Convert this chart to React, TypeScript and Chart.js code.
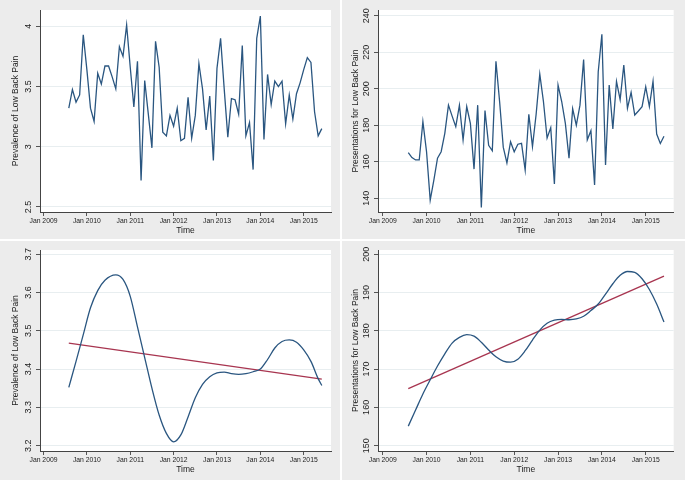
import React, { useEffect, useRef } from 'react';
import { Chart, registerables } from 'chart.js';

Chart.register(...registerables);

const FONT = '"Liberation Sans", Arial, Helvetica, sans-serif';
const NAVY = '#2a5680';
const MAROON = '#a83550';

// months counted from Jan 2009 (0); monthly series start Aug 2009
const firstMonth = 7;

const prevalence = [
  3.32, 3.475, 3.37, 3.43, 3.93, 3.64, 3.32, 3.21, 3.61, 3.52,
  3.67, 3.67, 3.58, 3.48, 3.83, 3.75, 4.01, 3.66, 3.33, 3.71,
  2.72, 3.55, 3.27, 2.99, 3.875, 3.66, 3.12, 3.09, 3.26, 3.17,
  3.32, 3.05, 3.07, 3.41, 3.07, 3.26, 3.69, 3.48, 3.14, 3.42,
  2.885, 3.65, 3.9, 3.48, 3.08, 3.4, 3.39, 3.27, 3.84, 3.09,
  3.2, 2.81, 3.9, 4.085, 3.06, 3.6, 3.35, 3.545, 3.5, 3.545,
  3.19, 3.43, 3.23, 3.44, 3.53, 3.64, 3.74, 3.7, 3.29, 3.09,
  3.15,
];

const presentations = [
  165, 162.3, 161, 161, 182, 165.5, 139, 150, 162, 165.5,
  175.6, 191, 185, 179.2, 191, 172, 190.2, 181, 156, 191,
  135, 188, 169, 166, 215, 193, 168, 159.4, 171, 165.5,
  169.6, 170.1, 155.5, 186, 168.3, 186, 208, 193, 173, 178.7,
  147.8, 202, 193, 181, 162, 189, 180, 191, 216, 172,
  177, 147.3, 209.3, 229.8, 158.2, 202, 178, 204, 194, 213,
  189.3, 198, 185.6, 187.8, 190.2, 201, 190.2, 204, 175.2, 170,
  174,
];

const smoothMonthsPrev = [
  7, 9, 11, 13, 15, 17, 20, 22, 24, 26, 28, 30, 32, 34, 36, 38, 40, 42,
  44, 46, 48, 50, 52, 54, 56, 58, 60, 62, 64, 66, 68, 70, 72, 74, 76, 77,
];
const smoothPrevalence = [
  3.352, 3.42, 3.49, 3.56, 3.605, 3.632, 3.646, 3.634, 3.59, 3.51, 3.43, 3.35,
  3.28, 3.232, 3.21, 3.228, 3.275, 3.325, 3.36, 3.38, 3.39, 3.392, 3.388, 3.386,
  3.388, 3.393, 3.4, 3.425, 3.455, 3.472, 3.476, 3.47, 3.45, 3.42, 3.375, 3.357,
];

const smoothMonthsPres = [
  7, 9, 11, 13, 15, 17, 19, 21, 23, 25, 27, 29, 31, 33, 35, 37, 39, 41,
  43, 45, 47, 49, 51, 53, 55, 57, 59, 61, 63, 65, 67, 69, 71, 73, 75, 77,
];
const smoothPresentations = [
  155.1, 159.3, 163.5, 167.2, 170.8, 174, 176.8, 178.3, 179, 178.6, 177, 175,
  173.2, 172.1, 171.8, 172.6, 174.8, 177.6, 180.2, 182, 182.8, 183, 182.9, 183.1,
  183.8, 185.3, 187, 189.6, 192.3, 194.5, 195.5, 195.3, 193.6, 190.8, 187, 182.3,
];

const trendMonths = [7, 77];
const trendPrevalence = [3.468, 3.374];
const trendPresentations = [164.9, 194.3];

const xTickMonths = [0, 12, 24, 36, 48, 60, 72];
const xTickLabels = ['Jan 2009', 'Jan 2010', 'Jan 2011', 'Jan 2012', 'Jan 2013', 'Jan 2014', 'Jan 2015'];

const yTicksPrevTop = [2.5, 3, 3.5, 4];
const yLabelsPrevTop = ['2.5', '3', '3.5', '4'];
const yTicksPresTop = [140, 160, 180, 200, 220, 240];
const yLabelsPresTop = ['140', '160', '180', '200', '220', '240'];
const yTicksPrevBottom = [3.2, 3.3, 3.4, 3.5, 3.6, 3.7];
const yLabelsPrevBottom = ['3.2', '3.3', '3.4', '3.5', '3.6', '3.7'];
const yTicksPresBottom = [150, 160, 170, 180, 190, 200];
const yLabelsPresBottom = ['150', '160', '170', '180', '190', '200'];

const whiteArea = {
  id: 'whiteArea',
  beforeDraw(chart: any) {
    const { ctx, chartArea: a } = chart;
    ctx.save();
    ctx.fillStyle = '#ffffff';
    ctx.fillRect(a.left, a.top, a.right - a.left, a.bottom - a.top);
    ctx.restore();
  },
};

type PanelProps = {
  left: number; top: number; width: number; height: number;
  datasets: any[];
  yTitle: string;
  yMin: number; yMax: number; yTicks: number[]; yLabels: string[];
  xMin: number; xMax: number;
  axisW: number; axisH: number; tickPad: number; yTitlePad: number; xTitlePad: number;
  chartTop: number; chartRight: number;
};

function Panel(p: PanelProps) {
  const ref = useRef<HTMLCanvasElement>(null);
  useEffect(() => {
    if (!ref.current) return;
    const chart = new Chart(ref.current, {
      type: 'line',
      data: { datasets: p.datasets },
      plugins: [whiteArea],
      options: {
        animation: false,
        responsive: false,
        maintainAspectRatio: false,
        parsing: false as any,
        layout: { padding: { left: 0, top: p.chartTop, right: p.width - p.chartRight, bottom: 0 } },
        plugins: { legend: { display: false }, tooltip: { enabled: false } },
        elements: { point: { radius: 0 } },
        scales: {
          x: {
            type: 'linear',
            min: p.xMin,
            max: p.xMax,
            afterBuildTicks: (ax: any) => { ax.ticks = xTickMonths.map((v) => ({ value: v })); },
            afterFit: (ax: any) => { ax.height = p.axisH; },
            ticks: {
              autoSkip: false, maxRotation: 0, minRotation: 0, padding: 1,
              color: '#222', font: { family: FONT, size: 6.8 },
              callback: (v: any) => xTickLabels[xTickMonths.indexOf(Number(v))],
            },
            grid: { drawOnChartArea: false, drawTicks: true, tickLength: 4, tickColor: '#555', tickWidth: 1 },
            border: { display: true, color: '#444', width: 1 },
            title: {
              display: true, text: 'Time', color: '#222',
              font: { family: FONT, size: 8.5 }, padding: { top: 0, bottom: p.xTitlePad },
            },
          },
          y: {
            type: 'linear',
            min: p.yMin,
            max: p.yMax,
            afterBuildTicks: (ax: any) => { ax.ticks = p.yTicks.map((v) => ({ value: v })); },
            afterFit: (ax: any) => { ax.width = p.axisW; },
            ticks: {
              autoSkip: false, minRotation: 90, maxRotation: 90, crossAlign: 'center',
              padding: p.tickPad, color: '#222', font: { family: FONT, size: 9 },
              callback: (v: any) => p.yLabels[p.yTicks.indexOf(Number(v))],
            },
            grid: { color: '#e8eef0', lineWidth: 1, drawTicks: true, tickLength: 4, tickColor: '#555', tickWidth: 1 },
            border: { display: true, color: '#444', width: 1 },
            title: {
              display: true, text: p.yTitle, color: '#222',
              font: { family: FONT, size: 8.5 }, padding: { top: p.yTitlePad, bottom: 0 },
            },
          },
        },
      } as any,
    });
    return () => chart.destroy();
  }, []);
  return (
    <div style={{ position: 'absolute', left: p.left, top: p.top, width: p.width, height: p.height, background: '#ececec' }}>
      <canvas ref={ref} width={p.width} height={p.height} style={{ display: 'block' }} />
    </div>
  );
}

const monthly = (vals: number[]) => vals.map((y, i) => ({ x: firstMonth + i, y }));
const paired = (xs: number[], ys: number[]) => xs.map((x, i) => ({ x, y: ys[i] }));

export default function App() {
  const rawLine = { borderColor: NAVY, borderWidth: 1.3, tension: 0, pointRadius: 0, fill: false };
  const smoothLine = { borderColor: NAVY, borderWidth: 1.3, cubicInterpolationMode: 'monotone', pointRadius: 0, fill: false };
  const trendLine = { borderColor: MAROON, borderWidth: 1.3, tension: 0, pointRadius: 0, fill: false };

  return (
    <div style={{ position: 'absolute', left: 0, top: 0, width: 685, height: 480, background: '#ffffff', overflow: 'hidden' }}>
      <Panel
        left={0} top={0} width={340} height={239}
        datasets={[{ ...rawLine, data: monthly(prevalence) }]}
        yTitle="Prevalence of Low Back Pain"
        yMin={2.458} yMax={4.135} yTicks={yTicksPrevTop} yLabels={yLabelsPrevTop}
        xMin={-0.97} xMax={79.55}
        axisW={40} axisH={27} tickPad={1.5} yTitlePad={10.5} xTitlePad={3.2}
        chartTop={10} chartRight={331}
      />
      <Panel
        left={342} top={0} width={343} height={239}
        datasets={[{ ...rawLine, data: monthly(presentations) }]}
        yTitle="Presentations for Low Back Pain"
        yMin={132.5} yMax={243.1} yTicks={yTicksPresTop} yLabels={yLabelsPresTop}
        xMin={-1.29} xMax={79.66}
        axisW={36} axisH={27} tickPad={0} yTitlePad={8.5} xTitlePad={3.2}
        chartTop={10} chartRight={331.7}
      />
      <Panel
        left={0} top={241} width={340} height={239}
        datasets={[
          { ...smoothLine, data: paired(smoothMonthsPrev, smoothPrevalence) },
          { ...trendLine, data: paired(trendMonths, trendPrevalence) },
        ]}
        yTitle="Prevalence of Low Back Pain"
        yMin={3.186} yMax={3.711} yTicks={yTicksPrevBottom} yLabels={yLabelsPrevBottom}
        xMin={-0.97} xMax={79.55}
        axisW={40} axisH={29} tickPad={1.5} yTitlePad={10.5} xTitlePad={5}
        chartTop={9} chartRight={331}
      />
      <Panel
        left={342} top={241} width={343} height={239}
        datasets={[
          { ...smoothLine, data: paired(smoothMonthsPres, smoothPresentations) },
          { ...trendLine, data: paired(trendMonths, trendPresentations) },
        ]}
        yTitle="Presentations for Low Back Pain"
        yMin={148.6} yMax={201.12} yTicks={yTicksPresBottom} yLabels={yLabelsPresBottom}
        xMin={-1.29} xMax={79.66}
        axisW={36} axisH={29} tickPad={0} yTitlePad={8.5} xTitlePad={5}
        chartTop={9} chartRight={331.7}
      />
    </div>
  );
}
